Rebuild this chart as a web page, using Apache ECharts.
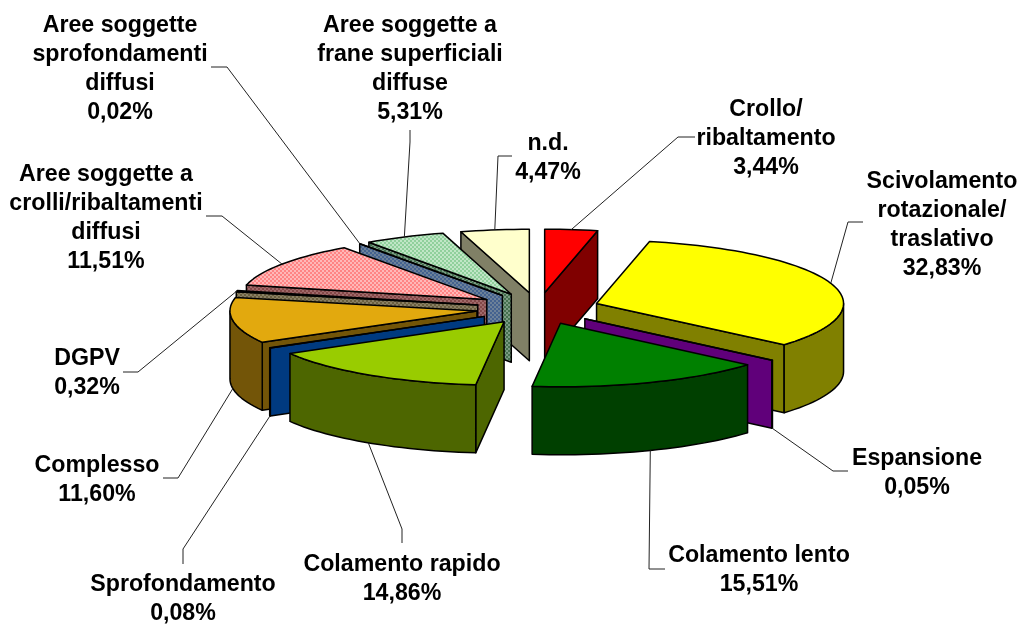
<!DOCTYPE html>
<html>
<head>
<meta charset="utf-8">
<style>
    html, body {margin: 0; padding: 0; background: #fff;}
    #chart {width: 1021px; height: 624px;}
</style>
<script src="https://cdn.jsdelivr.net/npm/echarts@6/dist/echarts.min.js"></script>
</head>
<body>
<div id="chart"></div>
<script>
const categories = [
    'Crollo/\nribaltamento',
    'Scivolamento\nrotazionale/\ntraslativo',
    'Espansione',
    'Colamento lento',
    'Colamento rapido',
    'Sprofondamento',
    'Complesso',
    'DGPV',
    'Aree soggette a\ncrolli/ribaltamenti\ndiffusi',
    'Aree soggette\nsprofondamenti\ndiffusi',
    'Aree soggette a\nfrane superficiali\ndiffuse',
    'n.d.'
];
const values = [3.44, 32.83, 0.05, 15.51, 14.86, 0.08, 11.60, 0.32, 11.51, 0.02, 5.31, 4.47];

const topColors = [
    '#ff0000', '#ffff00', '#800090', '#008000', '#99cc00', '#0070ff',
    '#e2a90e', '#000000', ['#ff8484', '#ffb8b8'], '#6f83a3', ['#90d09c', '#c0e6c6'], '#ffffcc'
];
const sideColors = [
    '#800000', '#808000', '#60007a', '#004000', '#4d6600', '#003a80',
    '#735508', ['#6b6040', '#8a8064'], ['#844848', '#a06a6a'], ['#44628f', '#6c8199'], ['#44704e', '#7c9c84'], '#808066'
];

// label centre, then the elbow and outer end of its leader line
const labelPos = [
    [766, 139], [942, 225], [917, 473], [759, 570], [402, 579], [183, 599],
    [97, 480], [87, 373], [106, 218], [120, 69], [410, 69], [548, 158]
];
const leaderPos = [
    [[678, 137], [695, 137]],
    [[848, 222], [863, 222]],
    [[833, 471], [848, 471]],
    [[649, 569], [665, 569]],
    [[402, 529], [402, 543]],
    [[183, 549], [183, 564]],
    [[178, 478], [163, 478]],
    [[138, 372], [123, 372]],
    [[222, 216], [206, 216]],
    [[227, 67], [211, 67]],
    [[410, 142], [410, 130]],
    [[498, 156], [512, 156]]
];

const cx = 538, cy = 308.5;
const rx = 247, ry = 63.5;
const depth = 68;
const explode = 0.25;

const total = values.reduce((a, b) => a + b, 0);
const slices = [];
let acc = 0;
values.forEach((v, i) => {
    const s = acc / total * 360;
    acc += v;
    const e = acc / total * 360;
    const m = (s + e) / 2;
    slices.push({
        s: s, e: e, m: m,
        ax: cx + explode * rx * Math.sin(rad(m)),
        ay: cy - explode * ry * Math.cos(rad(m))
    });
});

function rad(d) {
    return d * Math.PI / 180;
}

function rimPoint(sl, deg, dy) {
    return [sl.ax + rx * Math.sin(rad(deg)), sl.ay - ry * Math.cos(rad(deg)) + (dy || 0)];
}

function arcPoints(sl, from, to, dy) {
    const pts = [];
    const n = Math.max(1, Math.ceil(Math.abs(to - from) / 2));
    for (let i = 0; i <= n; i++) {
        pts.push(rimPoint(sl, from + (to - from) * i / n, dy));
    }
    return pts;
}

// fine woven fill, like the office pattern fills
function weave(c) {
    if (!Array.isArray(c)) return c;
    const cv = document.createElement('canvas');
    cv.width = 4;
    cv.height = 4;
    const g = cv.getContext('2d');
    const rows = ['1100', '1100', '0011', '0011'];
    rows.forEach((r, y) => {
        for (let x = 0; x < 4; x++) {
            g.fillStyle = c[+r[x]];
            g.fillRect(x, y, 1, 1);
        }
    });
    return {image: cv, repeat: 'repeat'};
}

const topFill = topColors.map(weave);
const sideFill = sideColors.map(weave);

function poly(points, fill) {
    return {
        type: 'polygon',
        shape: {points: points},
        style: {fill: fill, stroke: '#000', lineWidth: 1.5, lineJoin: 'round'}
    };
}

function renderSlice(params, api) {
    const i = api.value(0);
    const sl = slices[i];
    const apex = [sl.ax, sl.ay];
    const children = [];
    const sinS = Math.sin(rad(sl.s)), sinE = Math.sin(rad(sl.e));

    if (sinS < -1e-6) {
        const p = rimPoint(sl, sl.s);
        children.push(poly([apex, p, [p[0], p[1] + depth], [apex[0], apex[1] + depth]], sideFill[i]));
    }
    if (sinE > 1e-6) {
        const p = rimPoint(sl, sl.e);
        children.push(poly([apex, p, [p[0], p[1] + depth], [apex[0], apex[1] + depth]], sideFill[i]));
    }
    const from = Math.max(sl.s, 90), to = Math.min(sl.e, 270);
    if (to > from) {
        children.push(poly(arcPoints(sl, from, to, 0).concat(arcPoints(sl, to, from, depth)), sideFill[i]));
    }
    children.push(poly([apex].concat(arcPoints(sl, sl.s, sl.e, 0)), topFill[i]));
    return {type: 'group', children: children};
}

function renderLabel(params, api) {
    const i = api.value(0);
    const sl = slices[i];
    const front = Math.cos(rad(sl.m)) < 0;
    const anchor = rimPoint(sl, sl.m, front ? depth : 0);
    const text = categories[i] + '\n' + values[i].toFixed(2).replace('.', ',') + '%';
    return {
        type: 'group',
        children: [{
            type: 'polyline',
            shape: {points: [anchor].concat(leaderPos[i])},
            style: {fill: 'none', stroke: '#222', lineWidth: 1}
        }, {
            type: 'text',
            style: {
                text: text,
                x: labelPos[i][0],
                y: labelPos[i][1],
                align: 'center',
                verticalAlign: 'middle',
                fill: '#000',
                font: 'bold 23.2px "Liberation Sans", Arial, sans-serif',
                lineHeight: 29
            }
        }]
    };
}

// paint back to front
const order = values.map((v, i) => i).sort((a, b) => Math.cos(rad(slices[b].m)) - Math.cos(rad(slices[a].m)));

const chart = echarts.init(document.getElementById('chart'), null, {renderer: 'canvas'});
chart.setOption({
    backgroundColor: '#fff',
    animation: false,
    series: [{
        type: 'custom',
        coordinateSystem: 'none',
        silent: true,
        renderItem: renderSlice,
        data: order.map(i => [i])
    }, {
        type: 'custom',
        coordinateSystem: 'none',
        silent: true,
        renderItem: renderLabel,
        data: values.map((v, i) => [i])
    }]
});
</script>
</body>
</html>
